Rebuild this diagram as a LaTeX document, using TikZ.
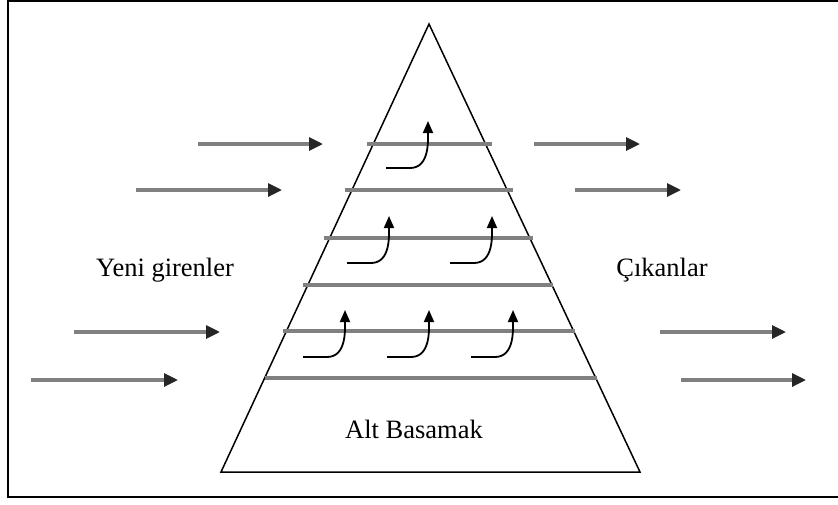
\documentclass[tikz,border=0pt]{standalone}
\usepackage{fontspec}
\setmainfont{Liberation Serif}
\usetikzlibrary{arrows.meta}

\tikzset{
  basamak/.style={black!50, line width=3.2pt},
  akis/.style={black!50, line width=3.2pt, -{Triangle[length=14pt,width=13pt,color=black!85]}},
  terfi/.style={black, line width=1.8pt, -{Triangle[length=12pt,width=10pt]}},
  yazi/.style={font=\fontsize{26.5}{30}\selectfont, anchor=base}
}

\begin{document}
\begin{tikzpicture}[x=1pt,y=1pt]
\useasboundingbox (0,0) rectangle (838,-504);
% Cerceve
\draw [line width=2pt] (838,-1) -- (8,-1) -- (8,-497) -- (838,-497);

% Piramit
\coordinate (tepe) at (429,-24);
\coordinate (solalt) at (221,-472);
\coordinate (sagalt) at (640,-472);
\draw [line width=1.5pt] (tepe) -- (solalt) -- (sagalt) -- cycle;

% Basamaklar
\foreach \y/\a/\b in {144/367/492, 190/345/513, 238/324/533, 285/303/553, 331/283/575, 378/265/597}
  \draw [basamak] (\a,-\y) -- (\b,-\y);

% Yukari gecisler
\foreach \x/\y in {386/168, 347/263, 450/263, 303/357, 387/357, 471/357}
  \draw [terfi] (\x,-\y) -- ++(24,0) to[out=0,in=-90] ++(18,47);

% Giren ve cikan akislar
\foreach \y/\a/\b in {144/198/323, 190/136/282, 332/74/220, 380/31/178}
  \draw [akis] (\a,-\y) -- (\b,-\y);
\foreach \y/\a/\b in {144/534/640, 190/575/681, 332/660/786, 380/681/806}
  \draw [akis] (\a,-\y) -- (\b,-\y);

% Etiketler
\node [yazi] (giren) at (165,-276) {Yeni girenler};
\node [yazi] (cikan) at (662,-276) {Çıkanlar};
\node [yazi] (alt) at (414,-438) {Alt Basamak};
\end{tikzpicture}
\end{document}
